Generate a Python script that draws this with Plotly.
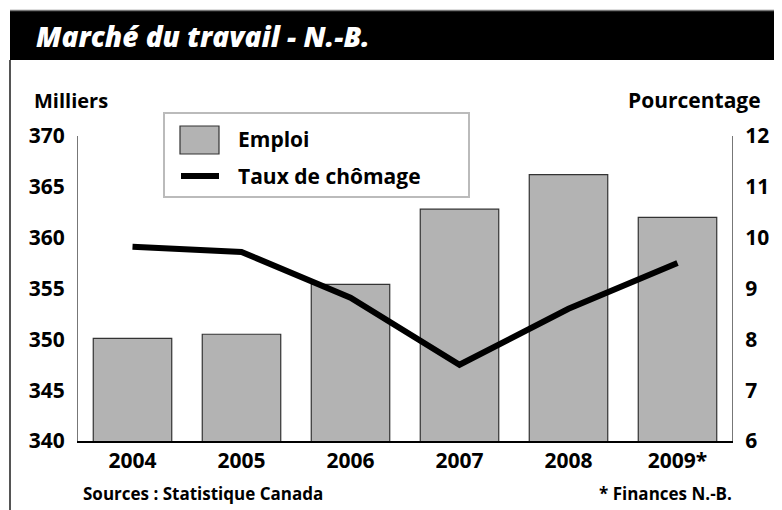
import plotly.graph_objects as go

years = ["2004", "2005", "2006", "2007", "2008", "2009*"]
emploi = [350.1, 350.5, 355.4, 362.8, 366.2, 362.0]
chomage = [9.82, 9.72, 8.82, 7.5, 8.6, 9.5]
left_ticks = [340, 345, 350, 355, 360, 365, 370]
right_ticks = [6, 7, 8, 9, 10, 11, 12]

OFF = 8  # page body margin
W, H = 782 - OFF, 510 - OFF
FONT = "Open Sans"


def px(x):
    return (x - OFF) / W


def py(y):
    return 1 - (y - OFF) / H


fig = go.Figure()
fig.add_trace(go.Bar(
    x=years, y=emploi, name="Emploi", width=0.72,
    marker=dict(color="#b3b3b3", line=dict(color="#333333", width=1.2)),
    yaxis="y", showlegend=False,
))
fig.add_trace(go.Scatter(
    x=years, y=chomage, name="Taux de chômage", mode="lines",
    line=dict(color="black", width=6), yaxis="y2", showlegend=False,
))

tickfont = dict(family=FONT, size=21, color="black", weight=700)

fig.update_layout(
    width=W, height=H,
    margin=dict(l=0, r=0, t=0, b=0),
    paper_bgcolor="white", plot_bgcolor="white",
    xaxis=dict(domain=[px(78), px(732)], showgrid=False, showline=True,
               linecolor="black", linewidth=1.5, ticks="", tickfont=tickfont,
               automargin=False),
    yaxis=dict(domain=[py(441), py(136)], range=[340, 370], tickvals=left_ticks,
               showgrid=False, showline=True, linecolor="#777777", linewidth=1.2,
               ticks="", tickfont=tickfont, ticklabelstandoff=8, automargin=False,
               zeroline=False),
    yaxis2=dict(overlaying="y", side="right", range=[6, 12], tickvals=right_ticks,
                showgrid=False, showline=True, linecolor="#777777", linewidth=1.2,
                ticks="", tickfont=tickfont, ticklabelstandoff=8, automargin=False,
                zeroline=False, anchor="x"),
    bargap=0.28,
)

shapes = [
    # title bar
    dict(type="rect", xref="paper", yref="paper", x0=px(10), x1=1, y0=py(60), y1=py(11),
         fillcolor="black", line=dict(width=0), layer="below"),
    dict(type="line", xref="paper", yref="paper", x0=px(10), x1=1, y0=py(10.5), y1=py(10.5),
         line=dict(color="#777777", width=1.5)),
    # left border
    dict(type="line", xref="paper", yref="paper", x0=px(10), x1=px(10), y0=py(60), y1=py(510),
         line=dict(color="#555555", width=2)),
    # legend box
    dict(type="rect", xref="paper", yref="paper", x0=px(164), x1=px(469), y0=py(197), y1=py(113),
         fillcolor="white", line=dict(color="#bbbbbb", width=2), layer="above"),
    dict(type="rect", xref="paper", yref="paper", x0=px(180), x1=px(219), y0=py(154), y1=py(126),
         fillcolor="#b3b3b3", line=dict(color="#333333", width=1.2), layer="above"),
    dict(type="line", xref="paper", yref="paper", x0=px(181), x1=px(219), y0=py(176), y1=py(176),
         line=dict(color="black", width=6), layer="above"),
]

annotations = [
    dict(text="Marché du travail - N.-B.", x=px(34), y=py(36), xref="paper", yref="paper",
         xanchor="left", yanchor="middle", showarrow=False,
         font=dict(family=FONT, size=28, color="white", weight=800, style="italic")),
    dict(text="Milliers", x=px(32), y=py(100), xref="paper", yref="paper",
         xanchor="left", yanchor="middle", showarrow=False,
         font=dict(family=FONT, size=20, color="black", weight=700)),
    dict(text="Pourcentage", x=px(763), y=py(100), xref="paper", yref="paper",
         xanchor="right", yanchor="middle", showarrow=False,
         font=dict(family=FONT, size=21, color="black", weight=700)),
    dict(text="Emploi", x=px(236), y=py(139), xref="paper", yref="paper",
         xanchor="left", yanchor="middle", showarrow=False,
         font=dict(family=FONT, size=21, color="black", weight=700)),
    dict(text="Taux de chômage", x=px(236), y=py(176), xref="paper", yref="paper",
         xanchor="left", yanchor="middle", showarrow=False,
         font=dict(family=FONT, size=21, color="black", weight=700)),
    dict(text="Sources : Statistique Canada", x=px(81), y=py(493), xref="paper", yref="paper",
         xanchor="left", yanchor="middle", showarrow=False,
         font=dict(family=FONT, size=17, color="black", weight=700)),
    dict(text="* Finances N.-B.", x=px(734), y=py(493), xref="paper", yref="paper",
         xanchor="right", yanchor="middle", showarrow=False,
         font=dict(family=FONT, size=17, color="black", weight=700)),
]

fig.update_layout(shapes=shapes, annotations=annotations)
fig.write_html("out.html")
